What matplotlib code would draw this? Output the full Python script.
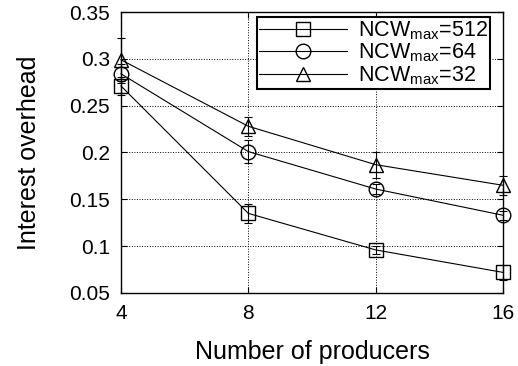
import matplotlib
matplotlib.use("Agg")
import matplotlib.pyplot as plt
from matplotlib.lines import Line2D

producers = [4, 8, 12, 16]
ncw_512 = [0.271, 0.135, 0.096, 0.072]
ncw_512_err = [0.010, 0.010, 0.004, 0.008]
ncw_64 = [0.284, 0.201, 0.161, 0.133]
ncw_64_err = [0.010, 0.012, 0.005, 0.005]
ncw_32 = [0.299, 0.228, 0.187, 0.165]
ncw_32_err = [0.023, 0.010, 0.014, 0.010]

plt.rcParams["font.family"] = ["Liberation Sans", "DejaVu Sans"]

fig = plt.figure(figsize=(5.18, 3.66), dpi=100)
ax = fig.add_axes([121 / 518, 1 - 293 / 366, (503 - 121) / 518, (293 - 12) / 366])

series = [
    (ncw_512, ncw_512_err, "s", r"NCW$_{\mathregular{max}}$=512"),
    (ncw_64, ncw_64_err, "o", r"NCW$_{\mathregular{max}}$=64"),
    (ncw_32, ncw_32_err, "^", r"NCW$_{\mathregular{max}}$=32"),
]
handles = []
for vals, errs, m, label in series:
    ax.errorbar(producers, vals, yerr=errs, fmt="-" + m, color="black",
                mfc="none", mec="black", ms=10.5, lw=0.8, elinewidth=0.8,
                capsize=3, capthick=0.8, clip_on=False, zorder=3)
    # legend keys show line + marker only, no error bar
    handles.append(Line2D([], [], color="black", marker=m, mfc="none",
                          mec="black", ms=10.5, lw=0.8, label=label))

ax.set_xlim(4, 16)
ax.set_ylim(0.05, 0.35)
ax.set_xticks(producers)
ax.set_yticks([0.05, 0.1, 0.15, 0.2, 0.25, 0.3, 0.35])
ax.set_yticklabels(["0.05", "0.1", "0.15", "0.2", "0.25", "0.3", "0.35"])
ax.tick_params(direction="in", labelsize=15, length=4, pad=8,
               top=True, right=True)
ax.grid(True, color="black", linestyle=":", linewidth=0.7)
for s in ax.spines.values():
    s.set_linewidth(1.0)

ax.set_xlabel("Number of producers", fontsize=18, labelpad=12)
ax.set_ylabel("Interest overhead", fontsize=18, labelpad=20)

leg = ax.legend(handles=handles, loc="upper right",
                bbox_to_anchor=(0.966, 0.982),
                fontsize=15.5, frameon=True, fancybox=False,
                borderpad=0.1, labelspacing=0.0, handlelength=4.1,
                handletextpad=0.5, borderaxespad=0)
leg.get_frame().set_edgecolor("black")
leg.get_frame().set_linewidth(1.5)
leg.get_frame().set_alpha(1)

fig.savefig("out.png", dpi=100)
